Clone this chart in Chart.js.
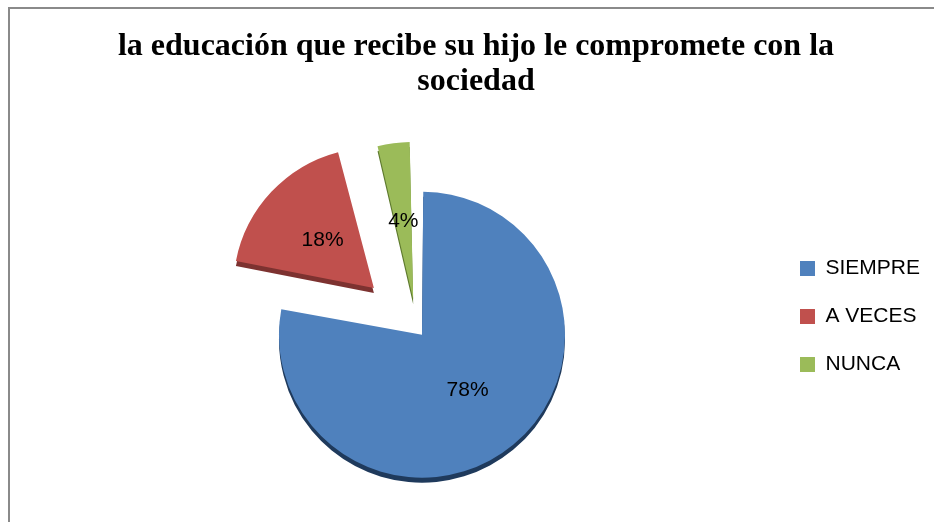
<!DOCTYPE html>
<html>
<head>
<meta charset="utf-8">
<script src="https://cdn.jsdelivr.net/npm/chart.js@4"></script>
<style>
  html, body { margin: 0; padding: 0; background: #fff; overflow: hidden; }
  #frame { position: absolute; left: 8px; top: 7px; width: 2000px; height: 2000px; border: 2px solid #8a8a8a; }
  #wrap { position: absolute; left: 0; top: 0; width: 934px; height: 522px; }
</style>
</head>
<body>
<div id="frame"></div>
<div id="wrap"><canvas id="pieCanvas"></canvas></div>
<script>
const categories = ['SIEMPRE', 'A VECES', 'NUNCA'];
const percentages = [78, 18, 4];
const titleLines = ['la educación que recibe su hijo le compromete con la', 'sociedad'];

const fills = ['#4f81bd', '#c0504d', '#9bbb59'];
const sides = ['#1f3a5c', '#7d3230', '#5e7a2e'];

// middle of an exploded slice, moved the way ArcElement.draw moves it
function sliceMiddle(arc) {
    const {x, y, startAngle, endAngle, outerRadius, circumference} =
        arc.getProps(['x', 'y', 'startAngle', 'endAngle', 'outerRadius', 'circumference'], true);
    const off = (arc.options.offset || 0) / 4;
    const fix = 1 - Math.sin(Math.min(Math.PI, circumference || 0));
    const r = (outerRadius + off * fix) / 2 + off;
    const half = (startAngle + endAngle) / 2;
    return {x: x + Math.cos(half) * r, y: y + Math.sin(half) * r};
}

const depthPlugin = {
    id: 'depth',
    beforeDatasetsDraw(chart) {
        const ctx = chart.ctx;
        chart.getDatasetMeta(0).data.forEach((arc, i) => {
            const o = arc.options;
            ctx.save();
            ctx.translate(0, 5);
            arc.options = Object.assign({}, o, {backgroundColor: sides[i], borderColor: sides[i]});
            arc.draw(ctx);
            arc.options = o;
            ctx.restore();
        });
    }
};

const labelPlugin = {
    id: 'pctLabels',
    afterDatasetsDraw(chart) {
        const ctx = chart.ctx;
        ctx.save();
        ctx.font = '21px "Liberation Sans", Arial, sans-serif';
        ctx.fillStyle = '#000';
        ctx.textAlign = 'center';
        ctx.textBaseline = 'middle';
        chart.getDatasetMeta(0).data.forEach((arc, i) => {
            const p = sliceMiddle(arc);
            ctx.fillText(percentages[i] + '%', p.x, p.y);
        });
        ctx.restore();
    }
};

const pieChart = new Chart(document.getElementById('pieCanvas').getContext('2d'), {
    type: 'pie',
    data: {
        labels: categories,
        datasets: [{
            data: percentages,
            backgroundColor: fills,
            borderWidth: 0,
            offset: [32, 236, 118],
            radius: 135,
            cutout: '0%',
            clip: false
        }]
    },
    options: {
        responsive: true,
        maintainAspectRatio: false,
        animation: false,
        events: [],
        layout: {
            padding: {left: 22, right: 4, top: 0, bottom: 96}
        },
        plugins: {
            tooltip: {enabled: false},
            title: {
                display: true,
                text: titleLines,
                color: '#000',
                font: {family: '"Liberation Serif", "Times New Roman", serif', size: 32, weight: 'bold', lineHeight: 1.094},
                padding: {top: 29.5, bottom: 131.5}
            },
            // empty spacer on the left so the pie sits left of the title centre
            subtitle: {
                display: true,
                position: 'left',
                fullSize: false,
                text: ' ',
                font: {size: 6, lineHeight: 1},
                padding: {top: 16.4, bottom: 16.4}
            },
            legend: {
                position: 'right',
                align: 'start',
                fullSize: false,
                labels: {
                    color: '#000',
                    boxWidth: 15,
                    boxHeight: 15,
                    padding: 27,
                    font: {family: '"Liberation Sans", Arial, sans-serif', size: 21}
                }
            }
        }
    },
    plugins: [depthPlugin, labelPlugin]
});
</script>
</body>
</html>
